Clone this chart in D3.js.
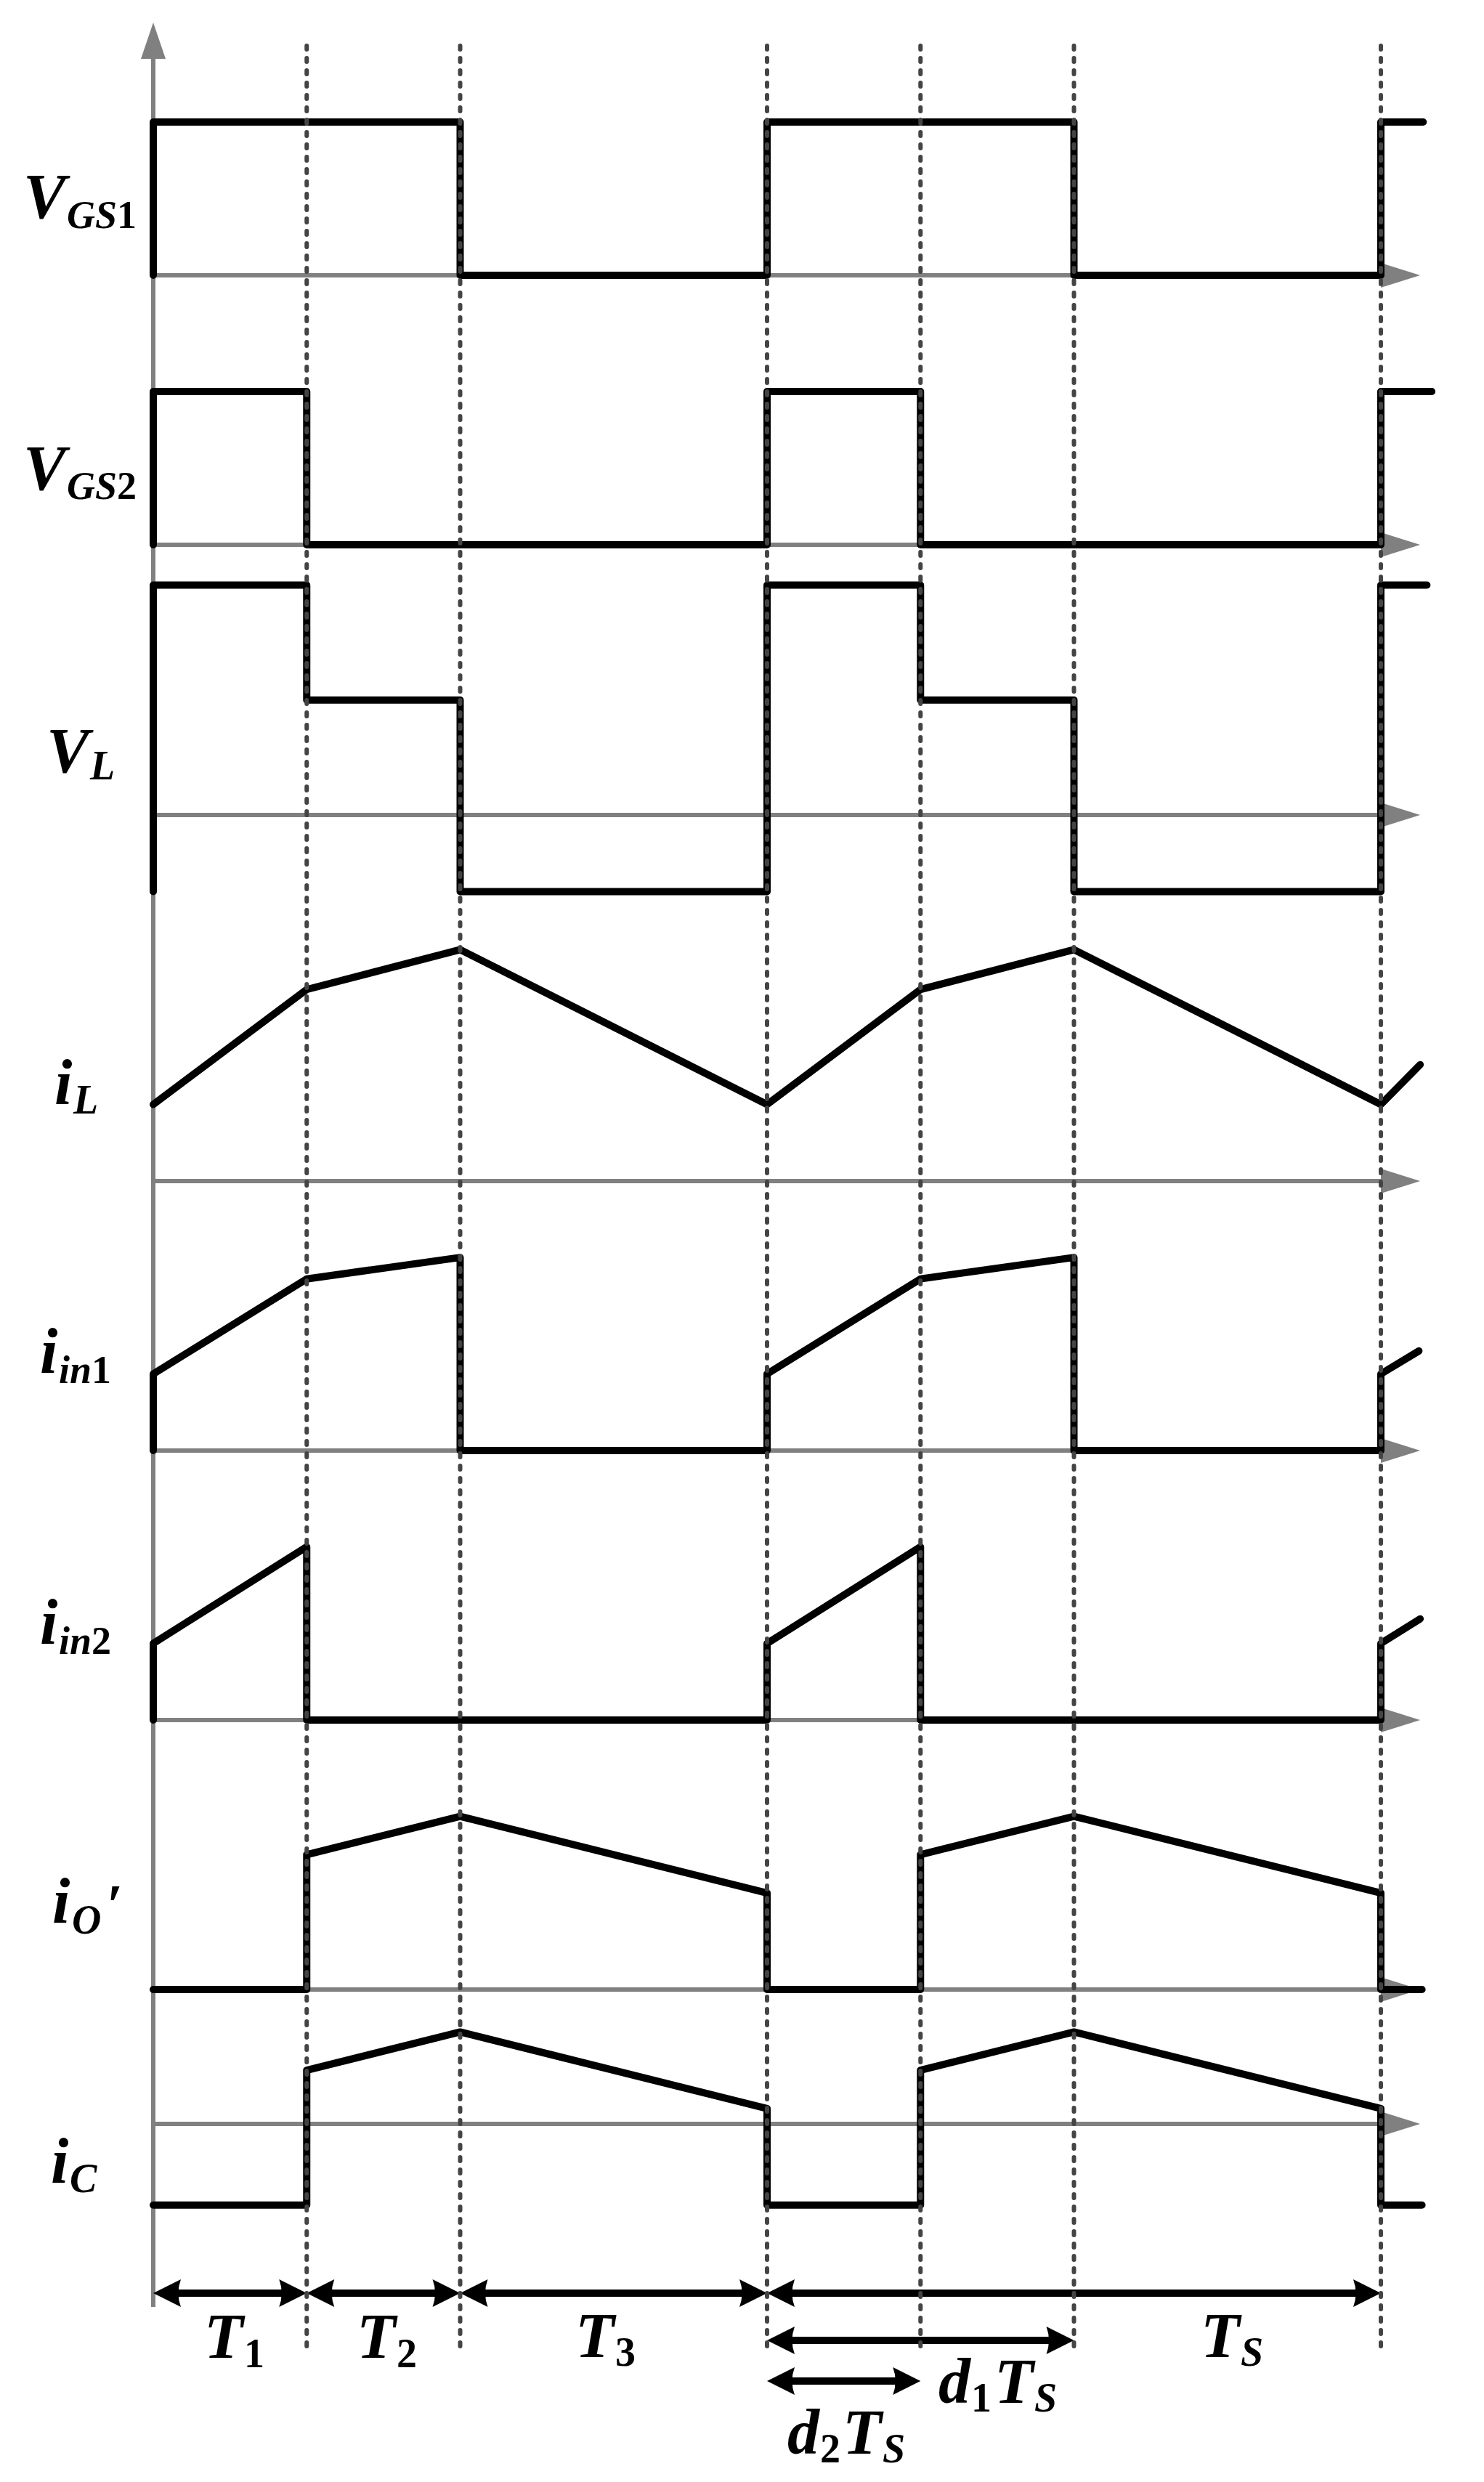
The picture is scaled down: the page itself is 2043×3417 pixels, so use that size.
<!DOCTYPE html>
<html><head><meta charset="utf-8">
<script src="https://cdn.jsdelivr.net/npm/d3@7"></script>
<style>html,body{margin:0;padding:0;background:#fff;} svg{display:block;}</style>
</head><body>
<svg id="c" width="2043" height="3417"></svg>
<script>
// ---------- data (time in units of Ts, values normalised) ----------
const switchMarks = [0.25, 0.5, 1, 1.25, 1.5, 2];

const vgs1_t = [0, 0, 0.5, 0.5, 1, 1, 1.5, 1.5, 2, 2, 2.069];
const vgs1_v = [0, 1, 1, 0, 0, 1, 1, 0, 0, 1, 1];

const vgs2_t = [0, 0, 0.25, 0.25, 1, 1, 1.25, 1.25, 2, 2, 2.083];
const vgs2_v = [0, 1, 1, 0, 0, 1, 1, 0, 0, 1, 1];

const vl_t = [0, 0, 0.25, 0.25, 0.5, 0.5, 1, 1, 1.25, 1.25, 1.5, 1.5, 2, 2, 2.075];
const vl_v = [-0.5, 1.5, 1.5, 0.75, 0.75, -0.5, -0.5, 1.5, 1.5, 0.75, 0.75, -0.5, -0.5, 1.5, 1.5];

const il_t = [0, 0.25, 0.5, 1, 1.25, 1.5, 2, 2.064];
const il_v = [0.5, 1.25, 1.51, 0.5, 1.25, 1.51, 0.5, 0.76];

const iin1_t = [0, 0, 0.25, 0.5, 0.5, 1, 1, 1.25, 1.5, 1.5, 2, 2, 2.062];
const iin1_v = [0, 0.5, 1.12, 1.26, 0, 0, 0.5, 1.12, 1.26, 0, 0, 0.5, 0.65];

const iin2_t = [0, 0, 0.25, 0.25, 1, 1, 1.25, 1.25, 2, 2, 2.064];
const iin2_v = [0, 0.5, 1.13, 0, 0, 0.5, 1.13, 0, 0, 0.5, 0.66];

const io_t = [0, 0.25, 0.25, 0.5, 1, 1, 1.25, 1.25, 1.5, 2, 2, 2.067];
const io_v = [0, 0, 0.88, 1.13, 0.63, 0, 0, 0.88, 1.13, 0.63, 0, 0];

const ic_t = [0, 0.25, 0.25, 0.5, 1, 1, 1.25, 1.25, 1.5, 2, 2, 2.067];
const ic_v = [-0.53, -0.53, 0.35, 0.6, 0.1, -0.53, -0.53, 0.35, 0.6, 0.1, -0.53, -0.53];

const spanStart = [0, 0.25, 0.5, 1, 1, 1];
const spanEnd   = [0.25, 0.5, 1, 2, 1.5, 1.25];

// ---------- layout ----------
const svg = d3.select("#c");
const x = d3.scaleLinear().domain([0, 2]).range([211, 1901]);
const axisEndT = 2.064;
const zeroY = [379, 750, 1122, 1626, 1997, 2368, 2739, 2924];
const unit = 211;
const series = [
  [vgs1_t, vgs1_v], [vgs2_t, vgs2_v], [vl_t, vl_v], [il_t, il_v],
  [iin1_t, iin1_v], [iin2_t, iin2_v], [io_t, io_v], [ic_t, ic_v]
];
const gray = "#808080";

// y axis
svg.append("line").attr("x1", x(0)).attr("x2", x(0)).attr("y1", 78).attr("y2", 3176)
  .attr("stroke", gray).attr("stroke-width", 6);
svg.append("path").attr("d", `M${x(0)},31 L${x(0)-17},81 L${x(0)+17},81 Z`).attr("fill", gray);

// horizontal axes
zeroY.forEach(zy => {
  svg.append("line").attr("x1", x(0)).attr("x2", x(2) + 4).attr("y1", zy).attr("y2", zy)
    .attr("stroke", gray).attr("stroke-width", 6);
  svg.append("path").attr("d", `M${x(axisEndT)},${zy} L${x(2)},${zy-17} L${x(2)},${zy+17} Z`).attr("fill", gray);
});

// signals
series.forEach((s, i) => {
  const y = d3.scaleLinear().domain([0, 1]).range([zeroY[i], zeroY[i] - unit]);
  const pts = s[0].map((t, k) => [t, s[1][k]]);
  const line = d3.line().x(d => x(d[0])).y(d => y(d[1]));
  svg.append("path").attr("d", line(pts)).attr("fill", "none").attr("stroke", "#000")
    .attr("stroke-width", 10).attr("stroke-linejoin", "round").attr("stroke-linecap", "round");
});

// time-span arrows
const rowY = [3157, 3157, 3157, 3157, 3222, 3278];
function head(xt, y, dir) {
  const b = xt - dir * 38, n = xt - dir * 31;
  return `M${xt},${y} L${b},${y-19} Q${n},${y} ${b},${y+19} Z`;
}
spanStart.forEach((t0, i) => {
  const x0 = x(t0), x1 = x(spanEnd[i]), y = rowY[i];
  svg.append("line").attr("x1", x0 + 20).attr("x2", x1 - 20).attr("y1", y).attr("y2", y)
    .attr("stroke", "#000").attr("stroke-width", 10);
  svg.append("path").attr("d", head(x0, y, -1)).attr("fill", "#000");
  svg.append("path").attr("d", head(x1, y, 1)).attr("fill", "#000");
});

// dashed switching lines
switchMarks.forEach(t => {
  svg.append("line").attr("x1", x(t)).attr("x2", x(t)).attr("y1", 63).attr("y2", 3230)
    .attr("stroke", "#444").attr("stroke-width", 6)
    .attr("stroke-dasharray", "5,12").attr("stroke-linecap", "round");
});

// labels
function label(segs) {
  const tx = svg.append("text").attr("font-family", "'Liberation Serif','Times New Roman',serif")
    .attr("font-weight", "bold").attr("fill", "#000");
  segs.forEach(s => {
    const ts = tx.append("tspan").text(s[0]).attr("y", s[2]).attr("font-size", s[3])
      .attr("font-style", s[4] ? "italic" : "normal");
    if (s[1] !== null) ts.attr("x", s[1]);
  });
}
label([["V", 32, 300, 88, 1], ["GS", 92, 314, 54, 1], ["1", null, 314, 54, 0]]);
label([["V", 32, 674, 88, 1], ["GS", 92, 687, 54, 1], ["2", null, 687, 54, 0]]);
label([["V", 64, 1063, 88, 1], ["L", 124, 1073, 56, 1]]);
label([["i", 75, 1520, 88, 1], ["L", 101, 1533, 56, 1]]);
label([["i", 55, 1890, 88, 1], ["in", 81, 1904, 54, 1], ["1", null, 1904, 54, 0]]);
label([["i", 55, 2263, 88, 1], ["in", 81, 2277, 54, 1], ["2", null, 2277, 54, 0]]);
label([["i", 72, 2647, 88, 1], ["O", 99, 2662, 56, 1], ["\u2032", 146, 2650, 80, 1]]);
label([["i", 70, 3005, 88, 1], ["C", 96, 3018, 56, 1]]);

label([["T", 281, 3246, 88, 1], ["1", 336, 3259, 56, 0]]);
label([["T", 491, 3246, 88, 1], ["2", 546, 3259, 56, 0]]);
label([["T", 792, 3245, 88, 1], ["3", 847, 3257, 56, 0]]);
label([["T", 1653, 3245, 88, 1], ["S", 1708, 3257, 56, 1]]);
label([["d", 1292, 3308, 88, 1], ["1", 1337, 3320, 56, 0], ["T", 1369, 3308, 88, 1], ["S", 1424, 3320, 56, 1]]);
label([["d", 1084, 3378, 88, 1], ["2", 1129, 3390, 56, 0], ["T", 1160, 3378, 88, 1], ["S", 1215, 3390, 56, 1]]);
</script>
</body></html>
